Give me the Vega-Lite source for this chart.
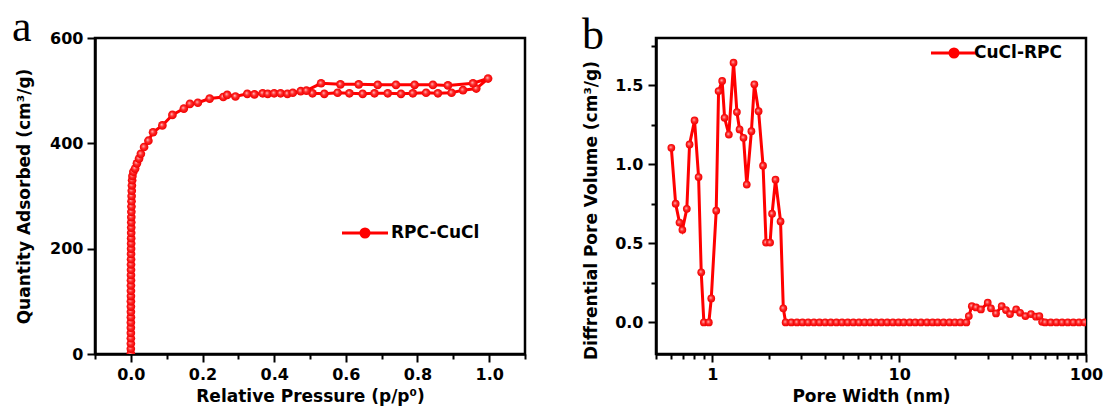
{
  "$schema": "https://vega.github.io/schema/vega-lite/v6.json",
  "background": "white",
  "padding": {"left": 10, "top": 4, "right": 5, "bottom": 0},
  "spacing": 52,
  "hconcat": [
    {
      "width": 430,
      "height": 316,
      "title": {"text": "a", "anchor": "start", "frame": "group", "font": "Liberation Serif", "fontSize": 44, "fontWeight": "normal", "baseline": "alphabetic", "offset": -55, "dx": -83, "color": "#000"},
      "data": {"values": [
        {"o":1,"p":0.0000,"q":1,"s":"RPC-CuCl"},{"o":2,"p":0.0000,"q":10,"s":"RPC-CuCl"},{"o":3,"p":0.0001,"q":20,"s":"RPC-CuCl"},{"o":4,"p":0.0001,"q":30,"s":"RPC-CuCl"},
        {"o":5,"p":0.0001,"q":40,"s":"RPC-CuCl"},{"o":6,"p":0.0001,"q":50,"s":"RPC-CuCl"},{"o":7,"p":0.0001,"q":60,"s":"RPC-CuCl"},{"o":8,"p":0.0002,"q":70,"s":"RPC-CuCl"},
        {"o":9,"p":0.0002,"q":80,"s":"RPC-CuCl"},{"o":10,"p":0.0002,"q":90,"s":"RPC-CuCl"},{"o":11,"p":0.0002,"q":100,"s":"RPC-CuCl"},{"o":12,"p":0.0003,"q":110,"s":"RPC-CuCl"},
        {"o":13,"p":0.0003,"q":120,"s":"RPC-CuCl"},{"o":14,"p":0.0003,"q":130,"s":"RPC-CuCl"},{"o":15,"p":0.0004,"q":140,"s":"RPC-CuCl"},{"o":16,"p":0.0004,"q":150,"s":"RPC-CuCl"},
        {"o":17,"p":0.0005,"q":160,"s":"RPC-CuCl"},{"o":18,"p":0.0005,"q":170,"s":"RPC-CuCl"},{"o":19,"p":0.0006,"q":180,"s":"RPC-CuCl"},{"o":20,"p":0.0006,"q":190,"s":"RPC-CuCl"},
        {"o":21,"p":0.0007,"q":200,"s":"RPC-CuCl"},{"o":22,"p":0.0008,"q":210,"s":"RPC-CuCl"},{"o":23,"p":0.0009,"q":220,"s":"RPC-CuCl"},{"o":24,"p":0.0010,"q":230,"s":"RPC-CuCl"},
        {"o":25,"p":0.0011,"q":240,"s":"RPC-CuCl"},{"o":26,"p":0.0012,"q":250,"s":"RPC-CuCl"},{"o":27,"p":0.0013,"q":260,"s":"RPC-CuCl"},{"o":28,"p":0.0015,"q":270,"s":"RPC-CuCl"},
        {"o":29,"p":0.0017,"q":280,"s":"RPC-CuCl"},{"o":30,"p":0.0019,"q":290,"s":"RPC-CuCl"},{"o":31,"p":0.0022,"q":300,"s":"RPC-CuCl"},{"o":32,"p":0.0026,"q":310,"s":"RPC-CuCl"},
        {"o":33,"p":0.0030,"q":320,"s":"RPC-CuCl"},{"o":34,"p":0.0036,"q":330,"s":"RPC-CuCl"},{"o":35,"p":0.0045,"q":338,"s":"RPC-CuCl"},{"o":36,"p":0.007,"q":346,"s":"RPC-CuCl"},
        {"o":37,"p":0.012,"q":352,"s":"RPC-CuCl"},{"o":38,"p":0.017,"q":362,"s":"RPC-CuCl"},{"o":39,"p":0.023,"q":371,"s":"RPC-CuCl"},{"o":40,"p":0.028,"q":380,"s":"RPC-CuCl"},
        {"o":41,"p":0.037,"q":393,"s":"RPC-CuCl"},{"o":42,"p":0.049,"q":405,"s":"RPC-CuCl"},{"o":43,"p":0.062,"q":421,"s":"RPC-CuCl"},{"o":44,"p":0.088,"q":434,"s":"RPC-CuCl"},
        {"o":45,"p":0.116,"q":454,"s":"RPC-CuCl"},{"o":46,"p":0.148,"q":466,"s":"RPC-CuCl"},{"o":47,"p":0.165,"q":475,"s":"RPC-CuCl"},{"o":48,"p":0.187,"q":477,"s":"RPC-CuCl"},
        {"o":49,"p":0.220,"q":485,"s":"RPC-CuCl"},{"o":50,"p":0.258,"q":488,"s":"RPC-CuCl"},{"o":51,"p":0.269,"q":492,"s":"RPC-CuCl"},{"o":52,"p":0.292,"q":489,"s":"RPC-CuCl"},
        {"o":53,"p":0.325,"q":494,"s":"RPC-CuCl"},{"o":54,"p":0.345,"q":493,"s":"RPC-CuCl"},{"o":55,"p":0.368,"q":495,"s":"RPC-CuCl"},{"o":56,"p":0.382,"q":494,"s":"RPC-CuCl"},
        {"o":57,"p":0.400,"q":495,"s":"RPC-CuCl"},{"o":58,"p":0.418,"q":495,"s":"RPC-CuCl"},{"o":59,"p":0.437,"q":494,"s":"RPC-CuCl"},{"o":60,"p":0.474,"q":499,"s":"RPC-CuCl"},
        {"o":61,"p":0.507,"q":495,"s":"RPC-CuCl"},{"o":62,"p":0.540,"q":494,"s":"RPC-CuCl"},{"o":63,"p":0.577,"q":496,"s":"RPC-CuCl"},{"o":64,"p":0.610,"q":495,"s":"RPC-CuCl"},
        {"o":65,"p":0.647,"q":494,"s":"RPC-CuCl"},{"o":66,"p":0.680,"q":495,"s":"RPC-CuCl"},{"o":67,"p":0.717,"q":495,"s":"RPC-CuCl"},{"o":68,"p":0.754,"q":494,"s":"RPC-CuCl"},
        {"o":69,"p":0.787,"q":495,"s":"RPC-CuCl"},{"o":70,"p":0.824,"q":496,"s":"RPC-CuCl"},{"o":71,"p":0.857,"q":495,"s":"RPC-CuCl"},{"o":72,"p":0.895,"q":496,"s":"RPC-CuCl"},
        {"o":73,"p":0.927,"q":501,"s":"RPC-CuCl"},{"o":74,"p":0.964,"q":504,"s":"RPC-CuCl"},{"o":75,"p":0.997,"q":523,"s":"RPC-CuCl"},{"o":76,"p":0.955,"q":514,"s":"RPC-CuCl"},
        {"o":77,"p":0.885,"q":510,"s":"RPC-CuCl"},{"o":78,"p":0.843,"q":511,"s":"RPC-CuCl"},{"o":79,"p":0.792,"q":511,"s":"RPC-CuCl"},{"o":80,"p":0.740,"q":511,"s":"RPC-CuCl"},
        {"o":81,"p":0.689,"q":511,"s":"RPC-CuCl"},{"o":82,"p":0.636,"q":512,"s":"RPC-CuCl"},{"o":83,"p":0.585,"q":512,"s":"RPC-CuCl"},{"o":84,"p":0.531,"q":514,"s":"RPC-CuCl"},
        {"o":85,"p":0.490,"q":500,"s":"RPC-CuCl"},{"o":86,"p":0.452,"q":496,"s":"RPC-CuCl"}
      ]},
      "encoding": {
        "x": {"field": "p", "type": "quantitative", "scale": {"domain": [-0.1, 1.1], "nice": false, "zero": false},
          "axis": {"title": "Relative Pressure (p/p⁰)", "values": [-0.1,0,0.1,0.2,0.3,0.4,0.5,0.6,0.7,0.8,0.9,1.0,1.1], "format": ".1f",
            "labelExpr": "abs(round(datum.value*10)%2)==0 ? datum.label : ''",
            "tickSize": {"condition": {"test": "abs(round(datum.value*10)%2)==0", "value": 8}, "value": 5},
            "labelFlush": false, "labelOverlap": false, "labelPadding": 4, "titlePadding": 6}},
        "y": {"field": "q", "type": "quantitative", "scale": {"domain": [0, 600], "nice": false},
          "axis": {"title": "Quantity Adsorbed (cm³/g)", "values": [0,200,400,600], "tickSize": 8, "labelPadding": 4, "titlePadding": 16, "labelFlush": false, "labelOverlap": false}}
      },
      "layer": [
        {"mark": {"type": "line", "strokeWidth": 3, "clip": true},
         "encoding": {"order": {"field": "o", "type": "quantitative"},
           "color": {"field": "s", "type": "nominal", "scale": {"range": ["#ff0000"]},
             "legend": {"title": null, "orient": "none", "legendX": 257, "legendY": 182, "padding": 0,
               "symbolType": "M-2,0H2M-0.35,0A0.35,0.35,0,1,1,0.35,0A0.35,0.35,0,1,1,-0.35,0Z",
               "symbolSize": 529, "symbolStrokeWidth": 3, "symbolStrokeColor": "#ff0000", "symbolFillColor": "#ff0000",
               "labelOffset": 13, "labelFont": "DejaVu Sans", "labelFontWeight": "bold", "labelFontSize": 17, "labelColor": "#000"}}}},
        {"mark": {"type": "point", "filled": true, "size": 75, "opacity": 1, "strokeWidth": 0, "clip": true,
          "fill": {"gradient": "radial", "x1": 0.4, "y1": 0.4, "r1": 0, "x2": 0.5, "y2": 0.5, "r2": 0.5,
            "stops": [{"offset": 0, "color": "#ffc8c8"}, {"offset": 0.45, "color": "#ff2a2a"}, {"offset": 1, "color": "#f00000"}]}},
         "encoding": {}}
      ]
    },
    {
      "width": 430,
      "height": 316,
      "title": {"text": "b", "anchor": "start", "frame": "group", "font": "Liberation Serif", "fontSize": 44, "fontWeight": "normal", "baseline": "alphabetic", "offset": -55, "dx": -74, "color": "#000"},
      "data": {"values": [
        {"w":0.604,"v":1.105,"s":"CuCl-RPC"},{"w":0.637,"v":0.751,"s":"CuCl-RPC"},{"w":0.668,"v":0.632,"s":"CuCl-RPC"},{"w":0.692,"v":0.586,"s":"CuCl-RPC"},
        {"w":0.731,"v":0.719,"s":"CuCl-RPC"},{"w":0.756,"v":1.126,"s":"CuCl-RPC"},{"w":0.804,"v":1.278,"s":"CuCl-RPC"},{"w":0.845,"v":0.920,"s":"CuCl-RPC"},
        {"w":0.873,"v":0.317,"s":"CuCl-RPC"},{"w":0.902,"v":0,"s":"CuCl-RPC"},{"w":0.959,"v":0,"s":"CuCl-RPC"},{"w":0.988,"v":0.152,"s":"CuCl-RPC"},
        {"w":1.05,"v":0.707,"s":"CuCl-RPC"},{"w":1.081,"v":1.464,"s":"CuCl-RPC"},{"w":1.13,"v":1.528,"s":"CuCl-RPC"},{"w":1.164,"v":1.295,"s":"CuCl-RPC"},
        {"w":1.227,"v":1.189,"s":"CuCl-RPC"},{"w":1.30,"v":1.644,"s":"CuCl-RPC"},{"w":1.355,"v":1.331,"s":"CuCl-RPC"},{"w":1.40,"v":1.221,"s":"CuCl-RPC"},
        {"w":1.47,"v":1.168,"s":"CuCl-RPC"},{"w":1.53,"v":0.872,"s":"CuCl-RPC"},{"w":1.62,"v":1.210,"s":"CuCl-RPC"},{"w":1.68,"v":1.507,"s":"CuCl-RPC"},
        {"w":1.77,"v":1.337,"s":"CuCl-RPC"},{"w":1.87,"v":0.992,"s":"CuCl-RPC"},{"w":1.94,"v":0.505,"s":"CuCl-RPC"},{"w":2.04,"v":0.505,"s":"CuCl-RPC"},
        {"w":2.09,"v":0.688,"s":"CuCl-RPC"},{"w":2.18,"v":0.903,"s":"CuCl-RPC"},{"w":2.32,"v":0.639,"s":"CuCl-RPC"},{"w":2.40,"v":0.089,"s":"CuCl-RPC"},
        {"w":2.47,"v":0,"s":"CuCl-RPC"},{"w":2.65,"v":0,"s":"CuCl-RPC"},{"w":2.84,"v":0,"s":"CuCl-RPC"},{"w":3.04,"v":0,"s":"CuCl-RPC"},
        {"w":3.26,"v":0,"s":"CuCl-RPC"},{"w":3.50,"v":0,"s":"CuCl-RPC"},{"w":3.75,"v":0,"s":"CuCl-RPC"},{"w":4.02,"v":0,"s":"CuCl-RPC"},
        {"w":4.31,"v":0,"s":"CuCl-RPC"},{"w":4.62,"v":0,"s":"CuCl-RPC"},{"w":4.95,"v":0,"s":"CuCl-RPC"},{"w":5.31,"v":0,"s":"CuCl-RPC"},
        {"w":5.69,"v":0,"s":"CuCl-RPC"},{"w":6.10,"v":0,"s":"CuCl-RPC"},{"w":6.54,"v":0,"s":"CuCl-RPC"},{"w":7.01,"v":0,"s":"CuCl-RPC"},
        {"w":7.52,"v":0,"s":"CuCl-RPC"},{"w":8.06,"v":0,"s":"CuCl-RPC"},{"w":8.64,"v":0,"s":"CuCl-RPC"},{"w":9.26,"v":0,"s":"CuCl-RPC"},
        {"w":9.93,"v":0,"s":"CuCl-RPC"},{"w":10.6,"v":0,"s":"CuCl-RPC"},{"w":11.4,"v":0,"s":"CuCl-RPC"},{"w":12.2,"v":0,"s":"CuCl-RPC"},
        {"w":13.1,"v":0,"s":"CuCl-RPC"},{"w":14.1,"v":0,"s":"CuCl-RPC"},{"w":15.1,"v":0,"s":"CuCl-RPC"},{"w":16.1,"v":0,"s":"CuCl-RPC"},
        {"w":17.3,"v":0,"s":"CuCl-RPC"},{"w":18.6,"v":0,"s":"CuCl-RPC"},{"w":19.9,"v":0,"s":"CuCl-RPC"},{"w":21.3,"v":0,"s":"CuCl-RPC"},
        {"w":22.9,"v":0,"s":"CuCl-RPC"},{"w":23.6,"v":0.04,"s":"CuCl-RPC"},{"w":24.5,"v":0.103,"s":"CuCl-RPC"},{"w":25.8,"v":0.095,"s":"CuCl-RPC"},
        {"w":27.4,"v":0.082,"s":"CuCl-RPC"},{"w":29.8,"v":0.125,"s":"CuCl-RPC"},{"w":31.0,"v":0.089,"s":"CuCl-RPC"},{"w":33.0,"v":0.057,"s":"CuCl-RPC"},
        {"w":35.4,"v":0.103,"s":"CuCl-RPC"},{"w":37.3,"v":0.078,"s":"CuCl-RPC"},{"w":39.2,"v":0.053,"s":"CuCl-RPC"},{"w":42.3,"v":0.082,"s":"CuCl-RPC"},
        {"w":44.4,"v":0.061,"s":"CuCl-RPC"},{"w":47.4,"v":0.04,"s":"CuCl-RPC"},{"w":50.8,"v":0.053,"s":"CuCl-RPC"},{"w":54.0,"v":0.036,"s":"CuCl-RPC"},
        {"w":56.3,"v":0.04,"s":"CuCl-RPC"},{"w":58.2,"v":0.004,"s":"CuCl-RPC"},{"w":60.5,"v":0,"s":"CuCl-RPC"},{"w":64.8,"v":0,"s":"CuCl-RPC"},
        {"w":69.5,"v":0,"s":"CuCl-RPC"},{"w":74.5,"v":0,"s":"CuCl-RPC"},{"w":79.9,"v":0,"s":"CuCl-RPC"},{"w":85.6,"v":0,"s":"CuCl-RPC"},
        {"w":91.8,"v":0,"s":"CuCl-RPC"},{"w":98.4,"v":0,"s":"CuCl-RPC"}
      ]},
      "encoding": {
        "x": {"field": "w", "type": "quantitative", "scale": {"type": "log", "domain": [0.5, 100], "nice": false},
          "axis": {"title": "Pore Width (nm)", "values": [0.5,0.6,0.7,0.8,0.9,1,2,3,4,5,6,7,8,9,10,20,30,40,50,60,70,80,90,100], "format": "~g",
            "labelExpr": "(datum.value==1||datum.value==10||datum.value==100) ? datum.label : ''",
            "tickSize": {"condition": {"test": "datum.value==1||datum.value==10||datum.value==100", "value": 8}, "value": 5},
            "labelFlush": false, "labelOverlap": false, "labelPadding": 4, "titlePadding": 6}},
        "y": {"field": "v", "type": "quantitative", "scale": {"domain": [-0.2, 1.8], "nice": false, "zero": false},
          "axis": {"title": "Diffrential Pore Volume (cm³/g)", "values": [0,0.25,0.5,0.75,1,1.25,1.5,1.75], "format": ".1f",
            "labelExpr": "round(datum.value*4)%2==0 ? datum.label : ''",
            "tickSize": {"condition": {"test": "round(datum.value*4)%2==0", "value": 8}, "value": 5},
            "labelFlush": false, "labelOverlap": false, "labelPadding": 5, "titlePadding": 14, "titleY": 172}}
      },
      "layer": [
        {"mark": {"type": "line", "strokeWidth": 3, "clip": true},
         "encoding": {
           "color": {"field": "s", "type": "nominal", "scale": {"range": ["#ff0000"]},
             "legend": {"title": null, "orient": "none", "legendX": 285, "legendY": 2, "padding": 0,
               "symbolType": "M-2,0H2M-0.35,0A0.35,0.35,0,1,1,0.35,0A0.35,0.35,0,1,1,-0.35,0Z",
               "symbolSize": 529, "symbolStrokeWidth": 3, "symbolStrokeColor": "#ff0000", "symbolFillColor": "#ff0000",
               "labelOffset": 7, "labelFont": "DejaVu Sans", "labelFontWeight": "bold", "labelFontSize": 17, "labelColor": "#000"}}}},
        {"mark": {"type": "point", "filled": true, "size": 60, "opacity": 1, "strokeWidth": 0, "clip": true,
          "fill": {"gradient": "radial", "x1": 0.4, "y1": 0.4, "r1": 0, "x2": 0.5, "y2": 0.5, "r2": 0.5,
            "stops": [{"offset": 0, "color": "#ffc8c8"}, {"offset": 0.45, "color": "#ff2a2a"}, {"offset": 1, "color": "#f00000"}]}},
         "encoding": {}}
      ]
    }
  ],
  "resolve": {"scale": {"color": "independent"}},
  "config": {
    "view": {"stroke": "#000", "strokeWidth": 2.5},
    "axis": {"domainColor": "#000", "domainWidth": 2.5, "tickColor": "#000", "tickWidth": 2, "grid": false,
      "labelFont": "DejaVu Sans", "labelFontWeight": "bold", "labelFontSize": 16, "labelColor": "#000",
      "titleFont": "DejaVu Sans", "titleFontWeight": "bold", "titleFontSize": 17, "titleColor": "#000"}
  }
}
